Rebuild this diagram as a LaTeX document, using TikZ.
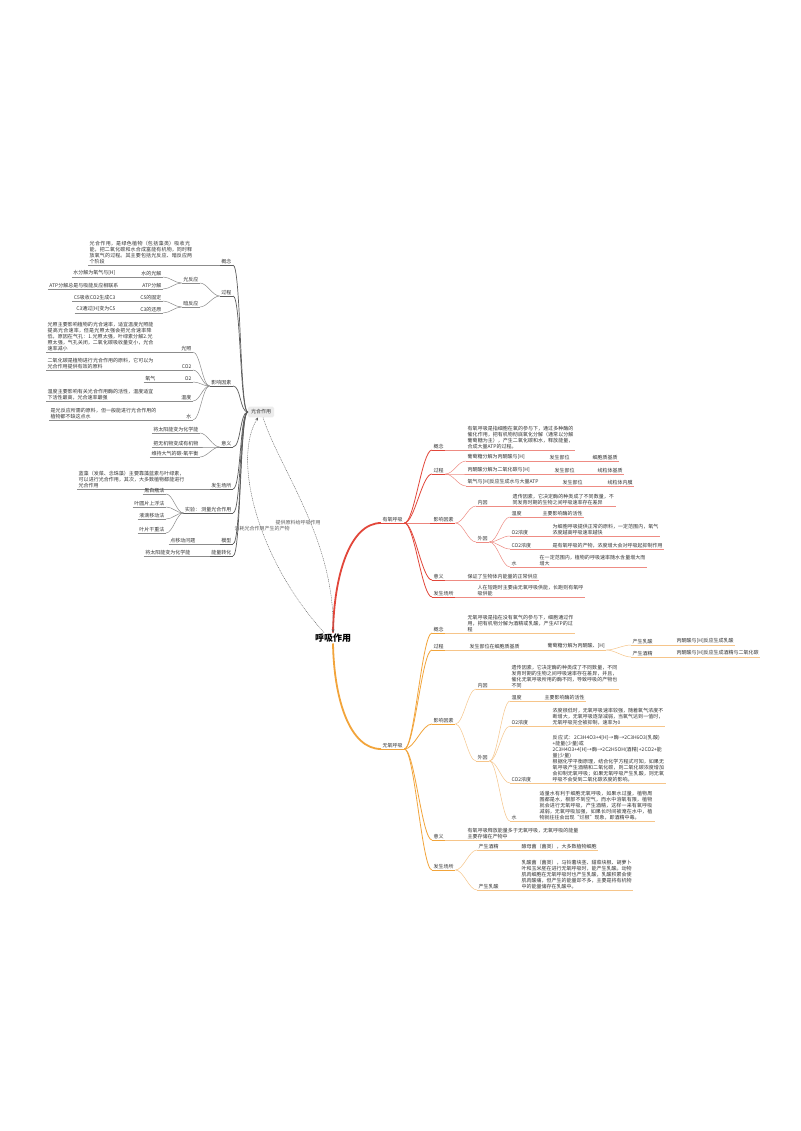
\documentclass[tikz,border=0pt]{standalone}
\usepackage{fontspec}
\setmainfont{Noto Sans CJK SC}
\XeTeXlinebreaklocale "zh"
\XeTeXlinebreakskip = 0pt plus 1pt
\usetikzlibrary{calc,arrows}
\definecolor{txtc}{HTML}{333333}
\definecolor{grayA}{HTML}{5C5C5C}
\definecolor{grayB}{HTML}{8C8C8C}
\definecolor{redA}{HTML}{E2463A}
\definecolor{redB}{HTML}{EE8C84}
\definecolor{orgA}{HTML}{F2A43A}
\definecolor{orgB}{HTML}{F6C58A}

\begin{document}
\begin{tikzpicture}[x=1pt,y=-1pt,
  every node/.style={font=\fontsize{5}{6}\selectfont,text=txtc,inner xsep=1.5pt,inner ysep=1pt},
  para/.style={text width=#1,align=left},
  ul/.style={append after command={(\tikzlastnode.south west) edge[#1] (\tikzlastnode.south east)}},
  fan/.style={to path={.. controls +(#1,0) and +(-#1,0) .. (\tikztotarget)}},
  fan/.default=8,
  rt/.style={anchor=south west},
  lt/.style={anchor=south east},
  redmain/.style={draw=redA,line width=1.8pt},
  redln/.style={draw=redA,line width=0.8pt},
  redsub/.style={draw=redB,line width=0.5pt},
  orgmain/.style={draw=orgA,line width=1.8pt},
  orgln/.style={draw=orgA,line width=0.8pt},
  orgsub/.style={draw=orgB,line width=0.5pt},
  grayln/.style={draw=grayA,line width=0.7pt},
  graysub/.style={draw=grayB,line width=0.5pt},
  rel/.style={draw=grayA,line width=0.4pt,dash pattern=on 1pt off 0.8pt,-stealth}]

\path[fill=white] (0,0) rectangle (800,1131);

% 呼吸作用
\node[font=\fontsize{9}{10}\selectfont\bfseries,text=black] (hx) at (333,638) {呼吸作用};

% 有氧呼吸
\node[rt,ul=redln] (ae) at (381,523) {有氧呼吸};
\draw[redmain] (hx.north) .. controls (334,575) and (350,523) .. (ae.south west);

\node[rt,ul=redln] (ae1) at (432,450) {概念};
\node[rt,ul=redsub,para=106pt] (ae1t) at (466,450) {有氧呼吸是指细胞在氧的参与下，通过多种酶的催化作用，把有机物彻底氧化分解（通常以分解葡萄糖为主），产生二氧化碳和水，释放能量，合成大量ATP的过程。};
\node[rt,ul=redln] (ae2) at (432,474) {过程};
\node[rt,ul=redsub] (ae21) at (466,461) {葡萄糖分解为丙酮酸与[H]};
\node[rt,ul=redsub] (ae21a) at (548,461) {发生部位};
\node[rt,ul=redsub] (ae21b) at (591,461) {细胞质基质};
\node[rt,ul=redsub] (ae22) at (466,474) {丙酮酸分解为二氧化碳与[H]};
\node[rt,ul=redsub] (ae22a) at (553,474) {发生部位};
\node[rt,ul=redsub] (ae22b) at (596,474) {线粒体基质};
\node[rt,ul=redsub] (ae23) at (466,486) {氧气与[H]反应生成水与大量ATP};
\node[rt,ul=redsub] (ae23a) at (561,486) {发生部位};
\node[rt,ul=redsub] (ae23b) at (606,486) {线粒体内膜};
\node[rt,ul=redln] (ae3) at (432,523) {影响因素};
\node[rt,ul=redsub] (ae31) at (476,506) {内因};
\node[rt,ul=redsub,para=102pt] (ae31t) at (511,506) {遗传因素，它决定酶的种类成了不同数量，不同发育时期的生物之间呼吸速率存在差异};
\node[rt,ul=redsub] (ae32) at (476,542) {外因};
\node[rt,ul=redsub] (ae321) at (510,517) {温度};
\node[rt,ul=redsub] (ae321t) at (541,517) {主要影响酶的活性};
\node[rt,ul=redsub] (ae322) at (510,536) {O2浓度};
\node[rt,ul=redsub,para=106pt] (ae322t) at (551,536) {为细胞呼吸提供正常的原料，一定范围内，氧气浓度越高呼吸速率越快};
\node[rt,ul=redsub] (ae323) at (510,549) {CO2浓度};
\node[rt,ul=redsub] (ae323t) at (551,549) {是有氧呼吸的产物，浓度增大会对呼吸起抑制作用};
\node[rt,ul=redsub] (ae324) at (510,567) {水};
\node[rt,ul=redsub,para=106pt] (ae324t) at (538,567) {在一定范围内，植物的呼吸速率随水含量增大而增大};
\node[rt,ul=redln] (ae4) at (432,580) {意义};
\node[rt,ul=redsub] (ae4t) at (466,580) {保证了生物体内能量的正常供应};
\node[rt,ul=redln] (ae5) at (432,597) {发生场所};
\node[rt,ul=redsub,para=106pt] (ae5t) at (476,597) {人在短跑时主要由无氧呼吸供能，长跑则有氧呼吸供能};

\foreach \nd in {ae1,ae2,ae3,ae4,ae5} \draw[redln] (ae.south east) to[fan=10] (\nd.south west);
\foreach \nd in {ae21,ae22,ae23} \draw[redsub] (ae2.south east) to[fan] (\nd.south west);
\foreach \nd in {ae31,ae32} \draw[redsub] (ae3.south east) to[fan] (\nd.south west);
\foreach \nd in {ae321,ae322,ae323,ae324} \draw[redsub] (ae32.south east) to[fan] (\nd.south west);
\draw[redsub] (ae1.south east) -- (ae1t.south west);
\draw[redsub] (ae21.south east) -- (ae21a.south west) (ae21a.south east) -- (ae21b.south west);
\draw[redsub] (ae22.south east) -- (ae22a.south west) (ae22a.south east) -- (ae22b.south west);
\draw[redsub] (ae23.south east) -- (ae23a.south west) (ae23a.south east) -- (ae23b.south west);
\draw[redsub] (ae31.south east) -- (ae31t.south west);
\draw[redsub] (ae321.south east) -- (ae321t.south west);
\draw[redsub] (ae322.south east) -- (ae322t.south west);
\draw[redsub] (ae323.south east) -- (ae323t.south west);
\draw[redsub] (ae324.south east) -- (ae324t.south west);
\draw[redsub] (ae4.south east) -- (ae4t.south west);
\draw[redsub] (ae5.south east) -- (ae5t.south west);

% 无氧呼吸
\node[rt,ul=orgln] (an) at (381,749) {无氧呼吸};
\draw[orgmain] (hx.south) .. controls (334,700) and (350,749) .. (an.south west);

\node[rt,ul=orgln] (an1) at (432,633) {概念};
\node[rt,ul=orgsub,para=106pt] (an1t) at (466,633) {无氧呼吸是指在没有氧气的参与下，细胞通过作用，把有机物分解为酒精或乳酸，产生ATP的过程};
\node[rt,ul=orgln] (an2) at (432,650) {过程};
\node[rt,ul=orgsub] (an21) at (468,650) {发生部位在细胞质基质};
\node[rt,ul=orgsub] (an22) at (546,650) {葡萄糖分解为丙酮酸、[H]};
\node[rt,ul=orgsub] (an23) at (631,645) {产生乳酸};
\node[rt,ul=orgsub] (an23t) at (675,645) {丙酮酸与[H]反应生成乳酸};
\node[rt,ul=orgsub] (an24) at (631,657) {产生酒精};
\node[rt,ul=orgsub] (an24t) at (675,657) {丙酮酸与[H]反应生成酒精与二氧化碳};
\node[rt,ul=orgln] (an3) at (432,724) {影响因素};
\node[rt,ul=orgsub] (an31) at (476,689) {内因};
\node[rt,ul=orgsub,para=106pt] (an31t) at (510,689) {遗传因素，它决定酶的种类成了不同数量，不同发育时期的生物之间呼吸速率存在差异，并且，催化无氧呼吸所用的酶不同，导致呼吸的产物也不同};
\node[rt,ul=orgsub] (an32) at (476,761) {外因};
\node[rt,ul=orgsub] (an321) at (510,701) {温度};
\node[rt,ul=orgsub] (an321t) at (543,701) {主要影响酶的活性};
\node[rt,ul=orgsub] (an322) at (510,726) {O2浓度};
\node[rt,ul=orgsub,para=111pt] (an322t) at (551,726) {浓度很低时，无氧呼吸速率较强，随着氧气浓度不断增大，无氧呼吸逐渐减弱，当氧气达到一值时，无氧呼吸完全被抑制，速率为0};
\node[rt,ul=orgsub] (an323) at (510,783) {CO2浓度};
\node[rt,ul=orgsub,para=112pt] (an323t) at (551,783) {反应式：2C3H4O3+4[H]→酶→2C3H6O3(乳酸)+能量(少量)或\\2C3H4O3+4[H]→酶→2C2H5OH(酒精)+2CO2+能量(少量)\\根据化学平衡原理，结合化学方程式可知，如果无氧呼吸产生酒精和二氧化碳，则二氧化碳浓度增加会抑制无氧呼吸；如果无氧呼吸产生乳酸，则无氧呼吸不会受到二氧化碳浓度的影响。};
\node[rt,ul=orgsub] (an324) at (510,821) {水};
\node[rt,ul=orgsub,para=114pt] (an324t) at (538,821) {适量水有利于细胞无氧呼吸，如果水过量，植物周围都是水，根部不到空气，而水中溶氧有限，植物就会进行无氧呼吸，产生酒精，这样一来有氧呼吸减弱，无氧呼吸加强，如果长时间被淹在水中，植物就往往会出现“烂根”现象，即酒精中毒。};
\node[rt,ul=orgln] (an4) at (432,840) {意义};
\node[rt,ul=orgsub,para=111pt] (an4t) at (466,840) {有氧呼吸释放能量多于无氧呼吸，无氧呼吸的能量主要存储在产物中};
\node[rt,ul=orgln] (an5) at (432,870) {发生场所};
\node[rt,ul=orgsub] (an51) at (477,850) {产生酒精};
\node[rt,ul=orgsub] (an51t) at (520,850) {酵母菌（菌类），大多数植物细胞};
\node[rt,ul=orgsub] (an52) at (477,890) {产生乳酸};
\node[rt,ul=orgsub,para=110pt] (an52t) at (520,890) {乳酸菌（菌类），马铃薯块茎、甜菜块根、胡萝卜叶和玉米胚在进行无氧呼吸时，能产生乳酸。动物肌肉细胞在无氧呼吸时也产生乳酸，乳酸积累会使肌肉酸痛，但产生的能量却不多，主要是将有机物中的能量储存在乳酸中。};

\foreach \nd in {an1,an2,an3,an4,an5} \draw[orgln] (an.south east) to[fan=10] (\nd.south west);
\foreach \nd in {an23,an24} \draw[orgsub] (an22.south east) to[fan] (\nd.south west);
\foreach \nd in {an31,an32} \draw[orgsub] (an3.south east) to[fan] (\nd.south west);
\foreach \nd in {an321,an322,an323,an324} \draw[orgsub] (an32.south east) to[fan] (\nd.south west);
\foreach \nd in {an51,an52} \draw[orgsub] (an5.south east) to[fan] (\nd.south west);
\draw[orgsub] (an1.south east) -- (an1t.south west);
\draw[orgsub] (an2.south east) -- (an21.south west) (an21.south east) -- (an22.south west);
\draw[orgsub] (an23.south east) -- (an23t.south west);
\draw[orgsub] (an24.south east) -- (an24t.south west);
\draw[orgsub] (an31.south east) -- (an31t.south west);
\draw[orgsub] (an321.south east) -- (an321t.south west);
\draw[orgsub] (an322.south east) -- (an322t.south west);
\draw[orgsub] (an323.south east) -- (an323t.south west);
\draw[orgsub] (an324.south east) -- (an324t.south west);
\draw[orgsub] (an4.south east) -- (an4t.south west);
\draw[orgsub] (an51.south east) -- (an51t.south west);
\draw[orgsub] (an52.south east) -- (an52t.south west);

% 光合作用
\node[fill=gray!15,rounded corners=1.5pt,inner sep=3pt] (gh) at (261,412) {光合作用};

\node[lt,ul=grayln] (pl1) at (233,265) {概念};
\node[rt,ul=graysub,para=104pt] (pl1t) at (88,265) {光合作用，是绿色植物（包括藻类）吸收光能，把二氧化碳和水合成富能有机物，同时释放氧气的过程。其主要包括光反应、暗反应两个阶段};
\node[lt,ul=grayln] (pl2) at (233,296) {过程};
\node[lt,ul=graysub] (pl21) at (200,283) {光反应};
\node[lt,ul=graysub] (pl211) at (163,277) {水的光解};
\node[lt,ul=graysub] (pl2111) at (117,277) {水分解为氧气与[H]};
\node[lt,ul=graysub] (pl212) at (163,289) {ATP分解};
\node[lt,ul=graysub] (pl2121) at (120,289) {ATP分解总是与吸能反应相联系};
\node[lt,ul=graysub] (pl22) at (200,307) {暗反应};
\node[lt,ul=graysub] (pl221) at (163,301) {C5的固定};
\node[lt,ul=graysub] (pl2211) at (117,301) {C5吸收CO2生成C3};
\node[lt,ul=graysub] (pl222) at (163,313) {C3的还原};
\node[lt,ul=graysub] (pl2221) at (117,313) {C3通过[H]变为C5};
\node[lt,ul=grayln] (pl3) at (233,386) {影响因素};
\node[lt,ul=graysub] (pl31) at (193,352) {光照};
\node[rt,ul=graysub,para=106pt] (pl31t) at (46,352) {光照主要影响植物的光合速率，适宜温度光照能提高光合速率，但是光照太强会把光合速率降低，原因在气孔：1.光照太强，叶绿素分解2.光照太强，气孔关闭，二氧化碳吸收量变小，光合速率减小};
\node[lt,ul=graysub] (pl32) at (193,370) {CO2};
\node[rt,ul=graysub,para=106pt] (pl32t) at (46,370) {二氧化碳是植物进行光合作用的原料，它可以为光合作用提供有效的原料};
\node[lt,ul=graysub] (pl33) at (193,382) {O2};
\node[lt,ul=graysub] (pl33a) at (157,382) {氧气};
\node[lt,ul=graysub] (pl34) at (193,401) {温度};
\node[rt,ul=graysub,para=106pt] (pl34t) at (46,401) {温度主要影响有关光合作用酶的活性，温度适宜下活性最高，光合速率最强};
\node[lt,ul=graysub] (pl35) at (193,420) {水};
\node[rt,ul=graysub,para=106pt] (pl35t) at (49,420) {是光反应所需的原料，但一般能进行光合作用的植物都不缺这点水};
\node[lt,ul=grayln] (pl4) at (233,447) {意义};
\node[lt,ul=graysub] (pl41) at (200,433) {将太阳能变为化学能};
\node[lt,ul=graysub] (pl42) at (200,447) {把无机物变成有机物};
\node[lt,ul=graysub] (pl43) at (200,457) {维持大气的碳-氧平衡};
\node[lt,ul=grayln] (pl5) at (233,489) {发生场所};
\node[rt,ul=graysub,para=106pt] (pl5t) at (77,489) {蓝藻（发菜、念珠藻）主要靠藻蓝素与叶绿素，可以进行光合作用，其次，大多数植物都能进行光合作用};
\node[lt,ul=grayln] (pl6) at (233,513) {实验：\ 测量光合作用};
\node[lt,ul=graysub] (pl61) at (166,494) {黑白瓶法};
\node[lt,ul=graysub] (pl62) at (166,507) {叶圆片上浮法};
\node[lt,ul=graysub] (pl63) at (166,519) {液滴移动法};
\node[lt,ul=graysub] (pl64) at (166,533) {叶片干重法};
\node[lt,ul=grayln] (pl7) at (233,544) {模型};
\node[lt,ul=graysub] (pl71) at (197,544) {点移动问题};
\node[lt,ul=grayln] (pl8) at (233,556) {能量转化};
\node[lt,ul=graysub] (pl81) at (192,556) {将太阳能变为化学能};

\foreach \nd in {pl1,pl2,pl3,pl4,pl5,pl6,pl7,pl8} \draw[grayln] (gh.west) to[fan=-8] (\nd.south east);
\foreach \nd in {pl21,pl22} \draw[graysub] (pl2.south west) to[fan=-7] (\nd.south east);
\foreach \nd in {pl211,pl212} \draw[graysub] (pl21.south west) to[fan=-7] (\nd.south east);
\foreach \nd in {pl221,pl222} \draw[graysub] (pl22.south west) to[fan=-7] (\nd.south east);
\foreach \nd in {pl31,pl32,pl33,pl34,pl35} \draw[graysub] (pl3.south west) to[fan=-7] (\nd.south east);
\foreach \nd in {pl41,pl42,pl43} \draw[graysub] (pl4.south west) to[fan=-7] (\nd.south east);
\foreach \nd in {pl61,pl62,pl63,pl64} \draw[graysub] (pl6.south west) to[fan=-7] (\nd.south east);
\draw[graysub] (pl1t.south east) -- (pl1.south west);
\draw[graysub] (pl2111.south east) -- (pl211.south west);
\draw[graysub] (pl2121.south east) -- (pl212.south west);
\draw[graysub] (pl2211.south east) -- (pl221.south west);
\draw[graysub] (pl2221.south east) -- (pl222.south west);
\draw[graysub] (pl31t.south east) -- (pl31.south west);
\draw[graysub] (pl32t.south east) -- (pl32.south west);
\draw[graysub] (pl33a.south east) -- (pl33.south west);
\draw[graysub] (pl34t.south east) -- (pl34.south west);
\draw[graysub] (pl35t.south east) -- (pl35.south west);
\draw[graysub] (pl5t.south east) -- (pl5.south west);
\draw[graysub] (pl71.south east) -- (pl7.south west);
\draw[graysub] (pl81.south east) -- (pl8.south west);

% 联系
\draw[rel] ([xshift=2pt]gh.south) .. controls (280,470) and (335,540) .. (hx.north);
\draw[rel] ([xshift=-9pt]hx.north) .. controls (258,560) and (232,460) .. ([xshift=-3pt]gh.south);
\node[text=grayA] (relA) at (262,529) {消耗光合作用产生的产物};
\node[text=grayA] (relB) at (298,523) {提供原料给呼吸作用};
\end{tikzpicture}
\end{document}
